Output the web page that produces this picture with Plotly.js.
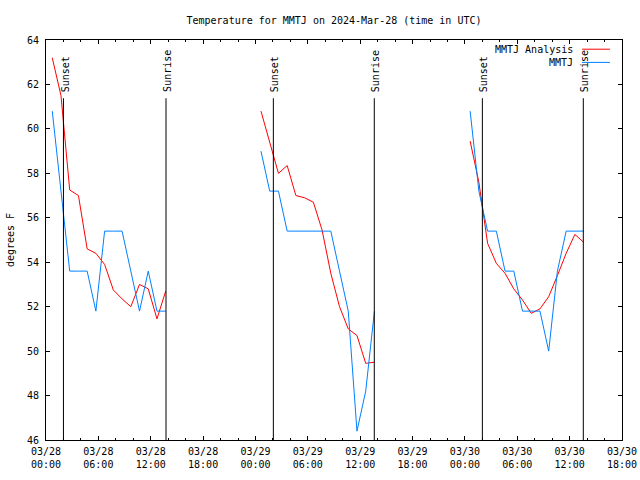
<!DOCTYPE html>
<html>
<head>
<meta charset="utf-8">
<script src="https://cdn.plot.ly/plotly-3.0.1.min.js"></script>
<style>html,body{margin:0;padding:0;background:#fff;}#chart{width:640px;height:480px;}</style>
</head>
<body>
<div id="chart"></div>
<script>
const timesDay1 = ["2024-03-28 00:43","2024-03-28 01:43","2024-03-28 02:43","2024-03-28 03:43","2024-03-28 04:43","2024-03-28 05:43","2024-03-28 06:43","2024-03-28 07:43","2024-03-28 08:43","2024-03-28 09:43","2024-03-28 10:43","2024-03-28 11:43","2024-03-28 12:43","2024-03-28 13:43"];
const timesDay2 = ["2024-03-29 00:38","2024-03-29 01:38","2024-03-29 02:38","2024-03-29 03:38","2024-03-29 04:38","2024-03-29 05:38","2024-03-29 06:38","2024-03-29 07:38","2024-03-29 08:38","2024-03-29 09:38","2024-03-29 10:38","2024-03-29 11:38","2024-03-29 12:38","2024-03-29 13:38"];
const timesDay3 = ["2024-03-30 00:36","2024-03-30 01:36","2024-03-30 02:36","2024-03-30 03:36","2024-03-30 04:36","2024-03-30 05:36","2024-03-30 06:36","2024-03-30 07:36","2024-03-30 08:36","2024-03-30 09:36","2024-03-30 10:36","2024-03-30 11:36","2024-03-30 12:36","2024-03-30 13:36"];

const analysisDay1 = [63.2, 61.5, 57.25, 57.0, 54.6, 54.4, 53.9, 52.75, 52.35, 52.0, 53.0, 52.8, 51.45, 52.7];
const analysisDay2 = [60.8, 59.4, 58.0, 58.35, 57.0, 56.9, 56.7, 55.45, 53.5, 52.0, 51.0, 50.7, 49.45, 49.5];
const analysisDay3 = [59.45, 57.6, 54.85, 53.95, 53.5, 52.8, 52.3, 51.7, 51.9, 52.45, 53.4, 54.4, 55.25, 54.9];

const obsDay1 = [60.8, 57.2, 53.6, 53.6, 53.6, 51.8, 55.4, 55.4, 55.4, 53.6, 51.8, 53.6, 51.8, 51.8];
const obsDay2 = [59.0, 57.2, 57.2, 55.4, 55.4, 55.4, 55.4, 55.4, 55.4, 53.6, 51.8, 46.4, 48.2, 51.8];
const obsDay3 = [60.8, 57.2, 55.4, 55.4, 53.6, 53.6, 51.8, 51.8, 51.8, 50.0, 53.6, 55.4, 55.4, 55.4];

const sunEventTimes = ["2024-03-28 02:00","2024-03-28 13:45","2024-03-29 02:03","2024-03-29 13:37","2024-03-30 02:00","2024-03-30 13:34"];
const sunEventLabels = ["Sunset","Sunrise","Sunset","Sunrise","Sunset","Sunrise"];

const seriesNames = ["MMTJ Analysis","MMTJ"];
const seriesColors = ["#ff0000","#0080ff"];

const FONT = "DejaVu Sans Mono";

function joinDays(a, b, c) { return a.concat([null], b, [null], c); }

const xs = joinDays(timesDay1, timesDay2, timesDay3);

const traces = [
  {x: xs, y: joinDays(analysisDay1, analysisDay2, analysisDay3), type: "scatter", mode: "lines",
   name: seriesNames[0], line: {color: seriesColors[0], width: 1}, connectgaps: false, hoverinfo: "skip"},
  {x: xs, y: joinDays(obsDay1, obsDay2, obsDay3), type: "scatter", mode: "lines",
   name: seriesNames[1], line: {color: seriesColors[1], width: 1}, connectgaps: false, hoverinfo: "skip"}
];

const shapes = [];
const annotations = [];
sunEventTimes.forEach((t, i) => {
  shapes.push({type: "line", xref: "x", yref: "y", x0: t, x1: t, y0: 46, y1: 61.38,
               line: {color: "#000", width: 1}});
  annotations.push({xref: "x", yref: "y", x: t, y: 61.62, text: sunEventLabels[i], textangle: -90,
                    showarrow: false, xanchor: "center", yanchor: "bottom", xshift: 2, borderpad: 0,
                    font: {family: FONT, size: 10, color: "#000"}});
});

// custom gnuplot-style legend (text right, sample line)
const legendY = [0.977, 0.944];
seriesNames.forEach((n, i) => {
  annotations.push({xref: "paper", yref: "paper", x: 0.9167, y: legendY[i], text: n, showarrow: false,
                    xanchor: "right", yanchor: "middle", borderpad: 0,
                    font: {family: FONT, size: 10, color: "#000"}});
  shapes.push({type: "line", xref: "paper", yref: "paper", x0: 0.9306, x1: 0.979, y0: legendY[i], y1: legendY[i],
               line: {color: seriesColors[i], width: 1}});
});

const layout = {
  width: 640, height: 480,
  margin: {l: 46, r: 18, t: 40, b: 40},
  paper_bgcolor: "#fff", plot_bgcolor: "#fff",
  showlegend: false,
  font: {family: FONT, size: 10, color: "#000"},
  title: {text: "Temperature for MMTJ on 2024-Mar-28 (time in UTC)", font: {family: FONT, size: 10, color: "#000"},
          x: 0.5, xref: "paper", y: 1 - 20/480, yref: "container", yanchor: "middle"},
  xaxis: {
    type: "date", range: ["2024-03-28 00:00", "2024-03-30 18:00"],
    tick0: "2024-03-28 00:00", dtick: 6*3600*1000, tickformat: "%m/%d<br>%H:%M",
    ticks: "inside", ticklen: 4, tickcolor: "#000", tickwidth: 1,
    minor: {dtick: 2*3600*1000, ticks: "inside", ticklen: 2, tickcolor: "#000"},
    showline: true, linecolor: "#000", linewidth: 1, mirror: "ticks",
    showgrid: false, zeroline: false, fixedrange: true,
    ticklabelstandoff: 2,
    tickfont: {family: FONT, size: 10, color: "#000"}
  },
  yaxis: {
    range: [46, 64], dtick: 2, tick0: 46,
    ticks: "inside", ticklen: 4, tickcolor: "#000", tickwidth: 1,
    showline: true, linecolor: "#000", linewidth: 1, mirror: "ticks",
    showgrid: false, zeroline: false, fixedrange: true,
    ticklabelstandoff: 4,
    tickfont: {family: FONT, size: 10, color: "#000"},
    title: {text: "degrees F", font: {family: FONT, size: 10, color: "#000"}, standoff: 10}
  },
  shapes: shapes,
  annotations: annotations
};

Plotly.newPlot("chart", traces, layout, {staticPlot: true, displayModeBar: false});
</script>
</body>
</html>
